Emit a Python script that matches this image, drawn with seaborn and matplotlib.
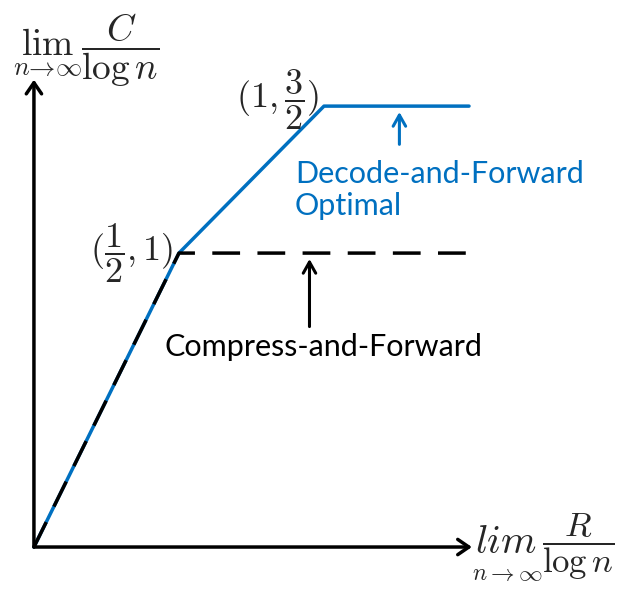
import numpy as np
import pandas as pd
import matplotlib
matplotlib.use('Agg')
import matplotlib.pyplot as plt
import seaborn as sns

sns.set_style('white')
plt.rcParams['mathtext.fontset'] = 'cm'
plt.rcParams['font.family'] = ['Lato', 'DejaVu Sans']

# corner points of the two schemes
df_x = [0, 0.5, 1.0, 1.5]
df_y = [0, 1.0, 1.5, 1.5]
cf_x = [0, 0.5, 1.5]
cf_y = [0, 1.0, 1.0]

blue = '#0070C0'

fig = plt.figure(figsize=(6.21, 5.92), dpi=100)
ax = fig.add_axes([0, 0, 1, 1])

sns.lineplot(x=df_x, y=df_y, sort=False, color=blue, lw=2.5, ax=ax)
sns.lineplot(x=cf_x, y=cf_y, sort=False, color='black', lw=2.5, ax=ax,
             dashes=False, linestyle=(0, (8, 5)))

ax.set_xlim(-0.117, 2.024)
ax.set_ylim(-0.153, 1.861)
ax.axis('off')

# axes as arrows
akw = dict(arrowstyle='->,head_length=0.8,head_width=0.55', lw=2.5, color='black',
           shrinkA=0, shrinkB=0)
ax.annotate('', xy=(0, 1.59), xytext=(0, 0), arrowprops=akw)
ax.annotate('', xy=(1.51, 0), xytext=(0, 0), arrowprops=akw)

# y label
ax.text(0.18, 1.69, r'$\lim_{n\to\infty}\dfrac{C}{\log n}$', fontsize=27,
        ha='center', va='center')
# x label: italic "lim" with the limit set underneath
ax.text(1.52, 0.02, r'$lim$', fontsize=29, ha='left', va='center')
ax.text(1.51, -0.09, r'$n\to\infty$', fontsize=17, ha='left', va='center')
ax.text(1.75, 0.0, r'$\dfrac{R}{\log n}$', fontsize=25, ha='left', va='center')

ax.text(0.48, 1.0, r'$(\dfrac{1}{2},1)$', fontsize=26, ha='right', va='center')
ax.text(0.985, 1.52, r'$(1,\dfrac{3}{2})$', fontsize=26, ha='right', va='center')

# pointer arrows
pkw = dict(arrowstyle='->,head_length=0.8,head_width=0.45', lw=2.2, shrinkA=0, shrinkB=0)
ax.annotate('', xy=(1.26, 1.48), xytext=(1.26, 1.37),
            arrowprops=dict(pkw, color=blue))
ax.annotate('', xy=(0.95, 0.98), xytext=(0.95, 0.75),
            arrowprops=dict(pkw, color='black'))

ax.text(0.9, 1.215, 'Decode-and-Forward\nOptimal', fontsize=22, color=blue,
        ha='left', va='center', linespacing=1.15)
ax.text(0.45, 0.68, 'Compress-and-Forward', fontsize=22, color='black',
        ha='left', va='center')

fig.savefig('out.png', dpi=100)
